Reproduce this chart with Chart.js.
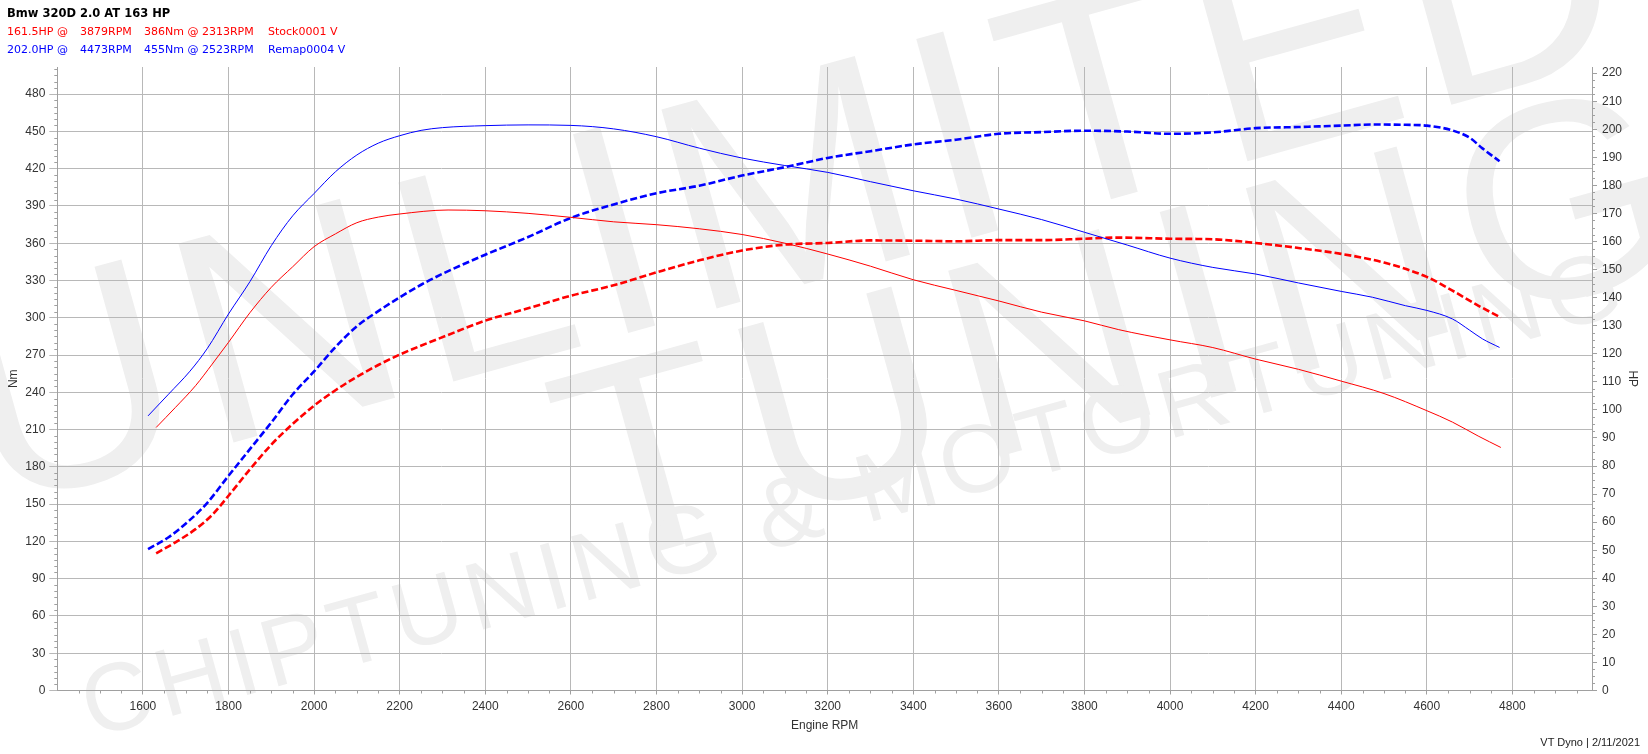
<!DOCTYPE html>
<html lang="en">

<head>
    <meta charset="UTF-8">
    <title>Bmw 320D 2.0 AT 163 HP</title>
    <script src="https://cdn.jsdelivr.net/npm/chart.js"></script>
</head>
<style>
    body {
        margin: 0;
        background: #fff;
        width: 1648px;
        height: 754px;
        overflow: hidden;
        position: relative;
        font-family: 'DejaVu Sans', sans-serif;
    }

    #dyno {
        position: absolute;
        left: 0;
        top: 0;
    }

    .wm {
        position: absolute;
        font-family: 'Liberation Sans', sans-serif;
        color: #efefef;
        white-space: pre;
        line-height: 1;
        transform-origin: 0 0.8465em;
    }

    .line {
        position: absolute;
        left: 0;
        font-size: 11px;
        white-space: pre;
        line-height: 14px;
    }

    .line span {
        position: absolute;
        top: 0;
    }

    .title {
        top: 6px;
        left: 7px;
        font-size: 11.5px;
        font-weight: bold;
        color: #000;
    }

    .stock { top: 25px; color: #ff0000; }
    .remap { top: 43px; color: #0000ff; }

    .footer {
        position: absolute;
        right: 8px;
        top: 736px;
        font-family: 'Liberation Sans', sans-serif;
        font-size: 11px;
        color: #222;
    }
</style>

<body>
    <div id="watermark"></div>
    <canvas id="dyno" width="1648" height="754"></canvas>
    <div class="line title">Bmw 320D 2.0 AT 163 HP</div>
    <div class="line stock"><span style="left:7px">161.5HP @</span><span style="left:80px">3879RPM</span><span style="left:144px">386Nm @ 2313RPM</span><span style="left:268px">Stock0001 V</span></div>
    <div class="line remap"><span style="left:7px">202.0HP @</span><span style="left:80px">4473RPM</span><span style="left:144px">455Nm @ 2523RPM</span><span style="left:268px">Remap0004 V</span></div>
    <div class="footer">VT Dyno | 2/11/2021</div>

    <script>
        // stock run (red)
        const stockRpm = [1631, 1676, 1723, 1762, 1800, 1850, 1900, 1950, 2000, 2050,
            2100, 2150, 2200, 2313, 2400, 2500, 2600, 2700, 2800, 2900,
            3000, 3100, 3200, 3300, 3400, 3500, 3600, 3700, 3800, 3879,
            4000, 4100, 4200, 4300, 4400, 4500, 4600, 4660, 4720, 4773];
        const stockNm = [211.7, 227.8, 245.3, 262.7, 280.2, 304, 324.5, 341, 357.2, 367.5,
            376.5, 381, 383.5, 386.7, 386.1, 384, 380.8, 377.2, 374.9, 371.6,
            367, 360, 351.3, 341.5, 330.6, 322, 313.5, 304.5, 297.5, 290.5,
            282.2, 276, 266.7, 258.5, 249, 239, 225.2, 216, 204.8, 195.6];
        const stockHp = [48.9, 52.8, 57.5, 62.6, 69.4, 78.8, 87.6, 95, 101.5, 107,
            111.8, 116, 119.7, 126.7, 131.8, 136.2, 140.7, 144.4, 149, 153.3,
            156.8, 158.9, 159.5, 160.4, 160.3, 160.1, 160.5, 160.5, 161, 161.4,
            161, 160.8, 159.5, 157.7, 155.6, 152.5, 147.4, 142.5, 137.2, 132.9];

        // remap run (blue)
        const remapRpm = [1612, 1660, 1710, 1750, 1800, 1850, 1900, 1950, 2000, 2050,
            2100, 2150, 2200, 2250, 2300, 2400, 2500, 2600, 2700, 2800,
            2900, 3000, 3100, 3200, 3300, 3400, 3500, 3600, 3700, 3800,
            3900, 4000, 4100, 4200, 4300, 4400, 4473, 4550, 4600, 4660,
            4700, 4730, 4770];
        const remapNm = [221, 238.5, 257, 275, 303, 329, 358, 382, 400, 417.5,
            431, 440.5, 446.5, 450.8, 453, 454.6, 455.2, 454.8, 452, 445.7,
            436.5, 428.5, 422.5, 417, 409.5, 402.2, 395.5, 387.5, 379, 368.8,
            358.5, 348, 340.5, 335.2, 328, 321.2, 316.5, 309.7, 305.9, 299,
            290, 283, 276.1];
        const remapHp = [50.4, 54.6, 60.8, 66.8, 76.5, 86, 95.5, 105.5, 113.7, 122.4,
            129.8, 135.2, 140.1, 144.6, 148.5, 155.3, 161.6, 168.4, 173.2, 177.2,
            179.9, 183.5, 186.5, 189.8, 192.2, 194.6, 196.3, 198.4, 199.0, 199.5,
            199.2, 198.4, 198.9, 200.4, 200.8, 201.3, 201.7, 201.6, 201.3, 199.6,
            197.0, 193.2, 188.6];

        // axis ticks
        const rpmTicks = [1600, 1800, 2000, 2200, 2400, 2600, 2800, 3000, 3200, 3400,
            3600, 3800, 4000, 4200, 4400, 4600, 4800];
        const nmTicks = [0, 30, 60, 90, 120, 150, 180, 210, 240, 270, 300, 330, 360, 390, 420, 450, 480];
        const hpTicks = [0, 10, 20, 30, 40, 50, 60, 70, 80, 90, 100, 110,
            120, 130, 140, 150, 160, 170, 180, 190, 200, 210, 220];

        const RPM_MIN = 1400, RPM_MAX = 4986;
        const NM_MAX = 501.8, HP_MAX = 222.2;

        const GRID = '#b8b8b8';
        const AXIS = '#a0a0a0';
        const TICK_FONT = { family: "'Liberation Sans', sans-serif", size: 12 };

        // background logo text: [text, baseline x, baseline y, font px, run length]
        const WM_ANGLE = -15.5;
        const watermark = [
            ['UNLIMITED', -10, 510, 300, 1720],
            ['TUNING', 590, 570, 280, 1160],
            ['CHIPTUNING & MOTORTUNING', 92, 738, 96, 1600]
        ];

        function drawWatermark() {
            const box = document.getElementById('watermark');
            const measure = document.createElement('canvas').getContext('2d');
            watermark.forEach(([text, x, y, size, len]) => {
                const el = document.createElement('div');
                el.className = 'wm';
                el.textContent = text;
                el.style.fontSize = size + 'px';
                measure.font = size + "px 'Liberation Sans'";
                const spacing = (len - measure.measureText(text).width) / text.length;
                el.style.letterSpacing = spacing + 'px';
                el.style.left = x + 'px';
                el.style.top = (y - 0.8465 * size) + 'px';
                el.style.transform = 'rotate(' + WM_ANGLE + 'deg)';
                box.appendChild(el);
            });
        }
        drawWatermark();

        function points(xs, ys) {
            return xs.map((x, i) => ({ x: x, y: ys[i] }));
        }

        function useTicks(values) {
            return function (scale) {
                scale.ticks = values.map(v => ({ value: v }));
            };
        }

        // small ticks between the labelled ones
        const minorTicks = {
            id: 'minorTicks',
            afterDraw(chart) {
                const { ctx, chartArea: a, scales } = chart;
                ctx.save();
                ctx.strokeStyle = AXIS;
                ctx.lineWidth = 1;
                ctx.beginPath();
                for (let v = 5; v <= NM_MAX; v += 5) {
                    if (v % 30 === 0) continue;
                    const y = Math.round(scales.yNm.getPixelForValue(v)) + 0.5;
                    ctx.moveTo(a.left - 3, y);
                    ctx.lineTo(a.left, y);
                }
                for (let v = 2.5; v <= HP_MAX; v += 2.5) {
                    if (v % 10 === 0) continue;
                    const y = Math.round(scales.yHp.getPixelForValue(v)) + 0.5;
                    ctx.moveTo(a.right, y);
                    ctx.lineTo(a.right + 3, y);
                }
                for (let v = RPM_MIN + 50; v <= RPM_MAX; v += 50) {
                    if (v % 200 === 0) continue;
                    const x = Math.round(scales.x.getPixelForValue(v)) + 0.5;
                    ctx.moveTo(x, a.bottom);
                    ctx.lineTo(x, a.bottom + 3);
                }
                ctx.stroke();
                ctx.restore();
            }
        };

        Chart.defaults.color = '#333';
        Chart.defaults.font = TICK_FONT;

        new Chart(document.getElementById('dyno').getContext('2d'), {
            type: 'line',
            data: {
                datasets: [
                    {
                        label: 'Stock0001 Nm',
                        data: points(stockRpm, stockNm),
                        yAxisID: 'yNm',
                        borderColor: '#ff0000',
                        borderWidth: 1
                    },
                    {
                        label: 'Remap0004 Nm',
                        data: points(remapRpm, remapNm),
                        yAxisID: 'yNm',
                        borderColor: '#0000ff',
                        borderWidth: 1
                    },
                    {
                        label: 'Stock0001 HP',
                        data: points(stockRpm, stockHp),
                        yAxisID: 'yHp',
                        borderColor: '#ff0000',
                        borderWidth: 2.6,
                        borderDash: [7, 3]
                    },
                    {
                        label: 'Remap0004 HP',
                        data: points(remapRpm, remapHp),
                        yAxisID: 'yHp',
                        borderColor: '#0000ff',
                        borderWidth: 2.6,
                        borderDash: [7, 3]
                    }
                ]
            },
            options: {
                responsive: false,
                animation: false,
                devicePixelRatio: 1,
                layout: { padding: { top: 67, left: 0, right: 0, bottom: 0 } },
                elements: {
                    point: { radius: 0 },
                    line: { cubicInterpolationMode: 'monotone', fill: false }
                },
                plugins: {
                    legend: { display: false },
                    tooltip: { enabled: false }
                },
                scales: {
                    x: {
                        type: 'linear',
                        min: RPM_MIN,
                        max: RPM_MAX,
                        afterBuildTicks: useTicks(rpmTicks),
                        afterFit: s => { s.height = 63.5; },
                        grid: { color: GRID, tickColor: AXIS, tickLength: 4 },
                        border: { color: AXIS },
                        ticks: { padding: 5, maxRotation: 0, autoSkip: false, callback: v => String(v) },
                        title: { display: true, text: 'Engine RPM', padding: { top: 0, bottom: 21 } }
                    },
                    yNm: {
                        type: 'linear',
                        position: 'left',
                        min: 0,
                        max: NM_MAX,
                        afterBuildTicks: useTicks(nmTicks),
                        afterFit: s => { s.width = 57.3; },
                        grid: { color: GRID, tickColor: GRID, tickLength: 8 },
                        border: { color: AXIS },
                        ticks: { padding: 4 },
                        title: { display: true, text: 'Nm', padding: { top: 6, bottom: 0 } }
                    },
                    yHp: {
                        type: 'linear',
                        position: 'right',
                        min: 0,
                        max: HP_MAX,
                        afterBuildTicks: useTicks(hpTicks),
                        afterFit: s => { s.width = 56; },
                        grid: { drawOnChartArea: false, tickColor: AXIS, tickLength: 5 },
                        border: { color: AXIS },
                        ticks: { padding: 5 },
                        title: { display: true, text: 'HP', padding: { top: 8, bottom: 0 } }
                    }
                }
            },
            plugins: [minorTicks]
        });
    </script>
</body>

</html>
